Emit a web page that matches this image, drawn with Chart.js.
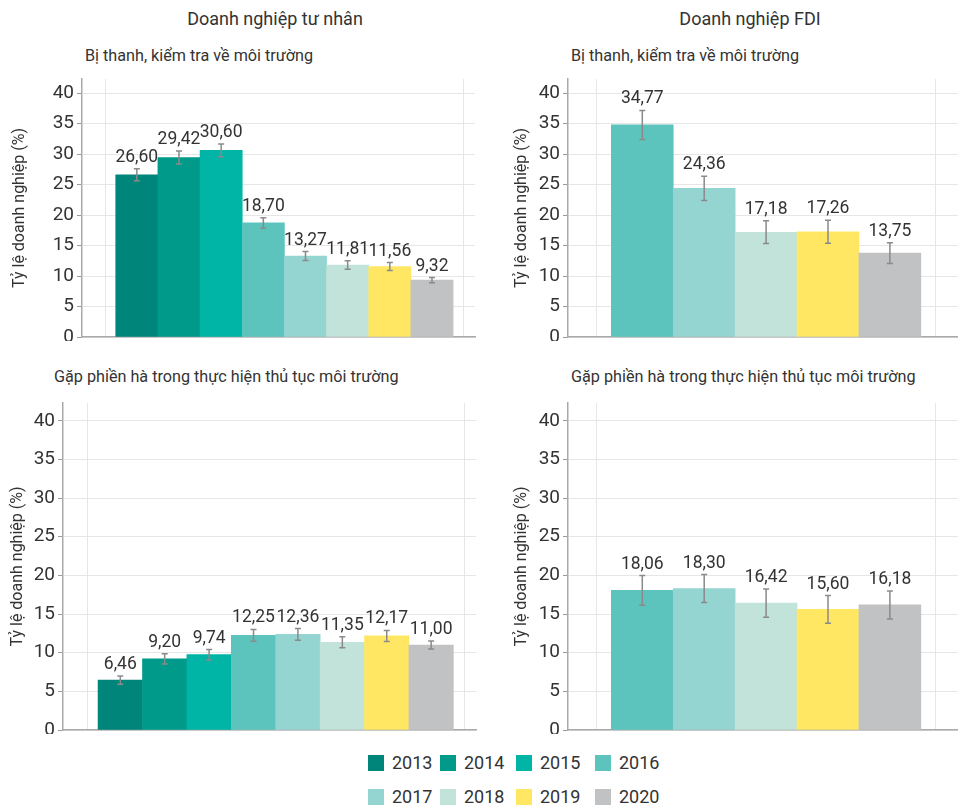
<!DOCTYPE html>
<html>
<head>
<meta charset="utf-8">
<script src="https://cdn.jsdelivr.net/npm/chart.js@4.4.1/dist/chart.umd.min.js"></script>
<style>
body{margin:0;background:#fff;}
#khung{position:relative;width:958px;height:805px;overflow:hidden;font-family:Roboto,'Noto Sans',sans-serif;color:#333;}
.o{position:absolute}
.chu{position:absolute;white-space:nowrap;line-height:24px}
.tieude{font-size:18px;text-align:center;width:300px}
.phu{font-size:16.2px}
#chuthich{position:absolute;left:368px;top:752px;width:320px;height:60px}
.mon{position:absolute;font-size:18px;line-height:22px;white-space:nowrap}
.mon span{display:inline-block;width:16px;height:16px;vertical-align:-2px;margin-right:8px}
</style>
</head>
<body>
<div id="khung">
  <div class="chu tieude" style="left:125px;top:7px">Doanh nghiệp tư nhân</div>
  <div class="chu tieude" style="left:600px;top:7px">Doanh nghiệp FDI</div>
  <div class="chu phu" style="left:85px;top:44px">Bị thanh, kiểm tra về môi trường</div>
  <div class="chu phu" style="left:571px;top:44px">Bị thanh, kiểm tra về môi trường</div>
  <div class="chu phu" style="left:54px;top:365px">Gặp phiền hà trong thực hiện thủ tục môi trường</div>
  <div class="chu phu" style="left:571px;top:365px">Gặp phiền hà trong thực hiện thủ tục môi trường</div>

  <div class="o" style="left:0;top:70px;width:480px;height:271px"><canvas id="c1"></canvas></div>
  <div class="o" style="left:500px;top:70px;width:458px;height:271px"><canvas id="c2"></canvas></div>
  <div class="o" style="left:0;top:395px;width:480px;height:339px"><canvas id="c3"></canvas></div>
  <div class="o" style="left:500px;top:395px;width:458px;height:339px"><canvas id="c4"></canvas></div>

  <div id="chuthich"></div>
</div>

<script>
const NAM_TU_NHAN = ['2013', '2014', '2015', '2016', '2017', '2018', '2019', '2020'];
const NAM_FDI = ['2016', '2017', '2018', '2019', '2020'];

// Bị thanh, kiểm tra về môi trường (%)
const THANH_TRA_TN = [26.60, 29.42, 30.60, 18.70, 13.27, 11.81, 11.56, 9.32];
const THANH_TRA_TN_SAI = [1.00, 1.06, 1.06, 0.87, 0.73, 0.70, 0.65, 0.43];
const THANH_TRA_FDI = [34.77, 24.36, 17.18, 17.26, 13.75];
const THANH_TRA_FDI_SAI = [2.38, 2.00, 1.87, 1.87, 1.70];

// Gặp phiền hà trong thực hiện thủ tục môi trường (%)
const PHIEN_HA_TN = [6.46, 9.20, 9.74, 12.25, 12.36, 11.35, 12.17, 11.00];
const PHIEN_HA_TN_SAI = [0.54, 0.65, 0.67, 0.76, 0.76, 0.71, 0.71, 0.52];
const PHIEN_HA_FDI = [18.06, 18.30, 16.42, 15.60, 16.18];
const PHIEN_HA_FDI_SAI = [1.92, 1.81, 1.83, 1.79, 1.81];

const Y_TICKS = [0, 5, 10, 15, 20, 25, 30, 35, 40];
const TEN_TRUC_Y = 'Tỷ lệ doanh nghiệp (%)';

const MAU_NAM = {
  '2013': '#00857a', '2014': '#009a8a', '2015': '#00b4a6', '2016': '#5cc4bd',
  '2017': '#94d4d1', '2018': '#c1e3da', '2019': '#ffe763', '2020': '#c1c2c4'
};

const FONT = "Roboto,'Noto Sans',sans-serif";

// thanh sai số + nhãn giá trị
const pluginSaiSo = {
  id: 'saiSo',
  afterDatasetsDraw(chart) {
    const ctx = chart.ctx;
    const y = chart.scales.y;
    const ds = chart.data.datasets[0];
    const meta = chart.getDatasetMeta(0);
    ctx.save();
    meta.data.forEach((bar, i) => {
      const v = ds.data[i].y;
      const e = ds.saiSo[i];
      const yTren = y.getPixelForValue(v + e);
      const yDuoi = y.getPixelForValue(v - e);
      ctx.strokeStyle = '#8a8a8a';
      ctx.lineWidth = 1.5;
      ctx.beginPath();
      ctx.moveTo(bar.x, yTren); ctx.lineTo(bar.x, yDuoi);
      ctx.moveTo(bar.x - 3, yTren); ctx.lineTo(bar.x + 3, yTren);
      ctx.moveTo(bar.x - 3, yDuoi); ctx.lineTo(bar.x + 3, yDuoi);
      ctx.stroke();
      ctx.fillStyle = '#333';
      ctx.font = '17.5px ' + FONT;
      ctx.textAlign = 'center';
      ctx.textBaseline = 'alphabetic';
      ctx.fillText(v.toFixed(2).replace('.', ','), bar.x, yTren - 7);
    });
    ctx.restore();
  }
};

function veBieuDo(id, nam, giaTri, saiSo, o) {
  const n = nam.length;
  new Chart(document.getElementById(id), {
    type: 'bar',
    data: {
      datasets: [{
        data: giaTri.map((v, i) => ({ x: i, y: v })),
        saiSo: saiSo,
        backgroundColor: nam.map(t => MAU_NAM[t]),
        borderWidth: 0,
        barPercentage: 1,
        categoryPercentage: 1
      }]
    },
    options: {
      responsive: true,
      maintainAspectRatio: false,
      animation: false,
      layout: { padding: { top: o.padTop, right: o.padRight, left: 0, bottom: 0 } },
      plugins: { legend: { display: false }, tooltip: { enabled: false } },
      scales: {
        x: {
          type: 'linear',
          min: o.xMin,
          max: n - 1 + o.xMaxThem,
          offset: false,
          afterBuildTicks: s => { s.ticks = [{ value: -0.74 }, { value: n - 1 + 0.74 }]; },
          afterFit: s => { s.height = 4; s.paddingLeft = 0; s.paddingRight = 0; },
          ticks: { display: false },
          grid: { offset: false, color: '#e6e6e6', drawTicks: false },
          border: { color: '#aaaaaa', width: 1.5 }
        },
        y: {
          min: 0,
          max: 42.3,
          afterBuildTicks: s => { s.ticks = Y_TICKS.map(v => ({ value: v })); },
          afterFit: s => { s.width = o.yWidth; s.paddingTop = 0; s.paddingBottom = 0; },
          ticks: { color: '#333', padding: 3, font: { family: FONT, size: 19 } },
          grid: { color: '#e6e6e6', tickColor: '#9a9a9a', tickLength: 5 },
          border: { color: '#aaaaaa', width: 1.5 },
          title: {
            display: true,
            text: TEN_TRUC_Y,
            color: '#333',
            padding: { top: o.titlePad, bottom: 0 },
            font: { family: FONT, size: 16 }
          }
        }
      }
    },
    plugins: [pluginSaiSo]
  });
}

veBieuDo('c1', NAM_TU_NHAN, THANH_TRA_TN, THANH_TRA_TN_SAI,
  { xMin: -1.3, xMaxThem: 1.02, padTop: 9, padRight: 5, yWidth: 82, titlePad: 10 });
veBieuDo('c2', NAM_FDI, THANH_TRA_FDI, THANH_TRA_FDI_SAI,
  { xMin: -1.2, xMaxThem: 1.1, padTop: 9, padRight: 0, yWidth: 68, titlePad: 12 });
veBieuDo('c3', NAM_TU_NHAN, PHIEN_HA_TN, PHIEN_HA_TN_SAI,
  { xMin: -1.29, xMaxThem: 1.01, padTop: 8, padRight: 4, yWidth: 63, titlePad: 8 });
veBieuDo('c4', NAM_FDI, PHIEN_HA_FDI, PHIEN_HA_FDI_SAI,
  { xMin: -1.2, xMaxThem: 1.1, padTop: 8, padRight: 0, yWidth: 68, titlePad: 12 });

// chú thích chung
const COT_CHU_THICH = [0, 72, 148, 227];
const chuThich = document.getElementById('chuthich');
NAM_TU_NHAN.forEach((t, i) => {
  const d = document.createElement('div');
  d.className = 'mon';
  d.style.left = COT_CHU_THICH[i % 4] + 'px';
  d.style.top = (Math.floor(i / 4) * 34) + 'px';
  d.innerHTML = '<span style="background:' + MAU_NAM[t] + '"></span>' + t;
  chuThich.appendChild(d);
});
</script>
</body>
</html>
